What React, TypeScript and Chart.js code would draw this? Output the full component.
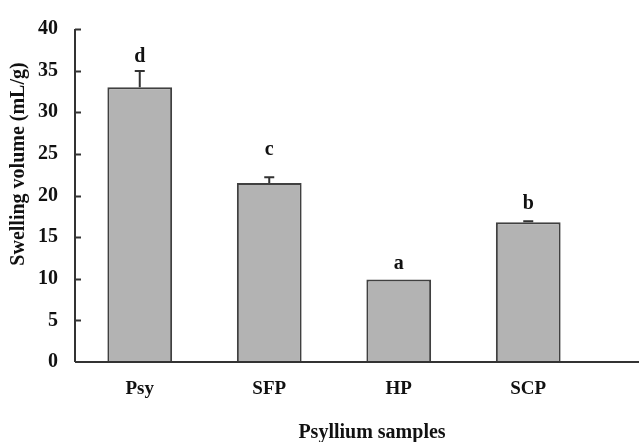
import React, { useEffect, useRef } from "react";
import { Chart, registerables } from "chart.js";

Chart.register(...registerables);

const categories = ["Psy", "SFP", "HP", "SCP"];
const swellingVolume = [33.0, 21.5, 9.9, 16.8];
const errorValues = [1.95, 0.7, 0.0, 0.1];
const groupLetters = ["d", "c", "a", "b"];
const letterLevels = [36.6, 25.5, 11.8, 19.0];
const yTicks = [0, 5, 10, 15, 20, 25, 30, 35, 40];

const FONT = "'Liberation Serif', 'Times New Roman', serif";
const AXIS_COLOR = "#333333";

const extrasPlugin = {
  id: "extras",
  afterDatasetsDraw(chart: any) {
    const { ctx, chartArea, scales } = chart;
    const y = scales.y;
    ctx.save();
    // error bars
    const meta = chart.getDatasetMeta(0);
    ctx.strokeStyle = "#333333";
    ctx.lineWidth = 2;
    meta.data.forEach((bar: any, i: number) => {
      const err = errorValues[i];
      if (err <= 0) return;
      const yTop = y.getPixelForValue(swellingVolume[i] + err);
      const yBase = y.getPixelForValue(swellingVolume[i]);
      ctx.beginPath();
      ctx.moveTo(bar.x, yBase);
      ctx.lineTo(bar.x, yTop);
      ctx.moveTo(bar.x - 5, yTop);
      ctx.lineTo(bar.x + 5, yTop);
      ctx.stroke();
    });
    // letters
    ctx.fillStyle = "#111111";
    ctx.font = `bold 20px ${FONT}`;
    ctx.textAlign = "center";
    ctx.textBaseline = "middle";
    meta.data.forEach((bar: any, i: number) => {
      ctx.fillText(groupLetters[i], bar.x, y.getPixelForValue(letterLevels[i]));
    });
    // inward tick marks on y axis
    ctx.strokeStyle = AXIS_COLOR;
    ctx.lineWidth = 2;
    yTicks.forEach((v) => {
      if (v === 0) return;
      const py = Math.round(y.getPixelForValue(v)) + 0.5;
      ctx.beginPath();
      ctx.moveTo(chartArea.left, py);
      ctx.lineTo(chartArea.left + 6, py);
      ctx.stroke();
    });
    // x axis line extended to the right edge
    ctx.beginPath();
    ctx.moveTo(chartArea.left, chartArea.bottom);
    ctx.lineTo(chart.width, chartArea.bottom);
    ctx.stroke();
    // y axis line
    ctx.beginPath();
    ctx.moveTo(chartArea.left, chartArea.top);
    ctx.lineTo(chartArea.left, chartArea.bottom);
    ctx.stroke();
    // titles
    ctx.fillStyle = "#111111";
    ctx.font = `bold 20px ${FONT}`;
    ctx.textAlign = "center";
    ctx.textBaseline = "middle";
    ctx.fillText("Psyllium samples", 372, 433);
    ctx.translate(19, 164);
    ctx.rotate(-Math.PI / 2);
    ctx.fillText("Swelling volume (mL/g)", 0, 0);
    ctx.restore();
  },
};

export default function App() {
  const ref = useRef<HTMLCanvasElement>(null);
  useEffect(() => {
    document.body.style.margin = "0";
    const chart = new Chart(ref.current!, {
      type: "bar",
      data: {
        labels: categories,
        datasets: [
          {
            data: swellingVolume,
            backgroundColor: "#b3b3b3",
            borderColor: "#404040",
            borderWidth: 2,
            categoryPercentage: 1,
            barPercentage: 0.5,
          },
        ],
      },
      options: {
        responsive: false,
        animation: false,
        devicePixelRatio: 1,
        layout: { padding: { top: 20, right: 46, left: 0, bottom: 0 } },
        plugins: { legend: { display: false }, tooltip: { enabled: false } },
        scales: {
          x: {
            grid: { display: false, drawTicks: false },
            border: { display: false },
            ticks: {
              padding: 16,
              color: "#111111",
              font: { family: FONT, size: 19, weight: "bold" },
            },
            afterFit(scale: any) {
              scale.height = 80;
            },
          },
          y: {
            min: 0,
            max: 40,
            grid: { display: false, drawTicks: false },
            border: { display: false },
            ticks: {
              stepSize: 5,
              padding: 17,
              color: "#111111",
              font: { family: FONT, size: 20, weight: "bold" },
            },
            afterFit(scale: any) {
              scale.width = 75;
            },
          },
        },
      },
      plugins: [extrasPlugin],
    });
    return () => chart.destroy();
  }, []);
  return <canvas ref={ref} width={639} height={442} style={{ display: "block" }} />;
}
